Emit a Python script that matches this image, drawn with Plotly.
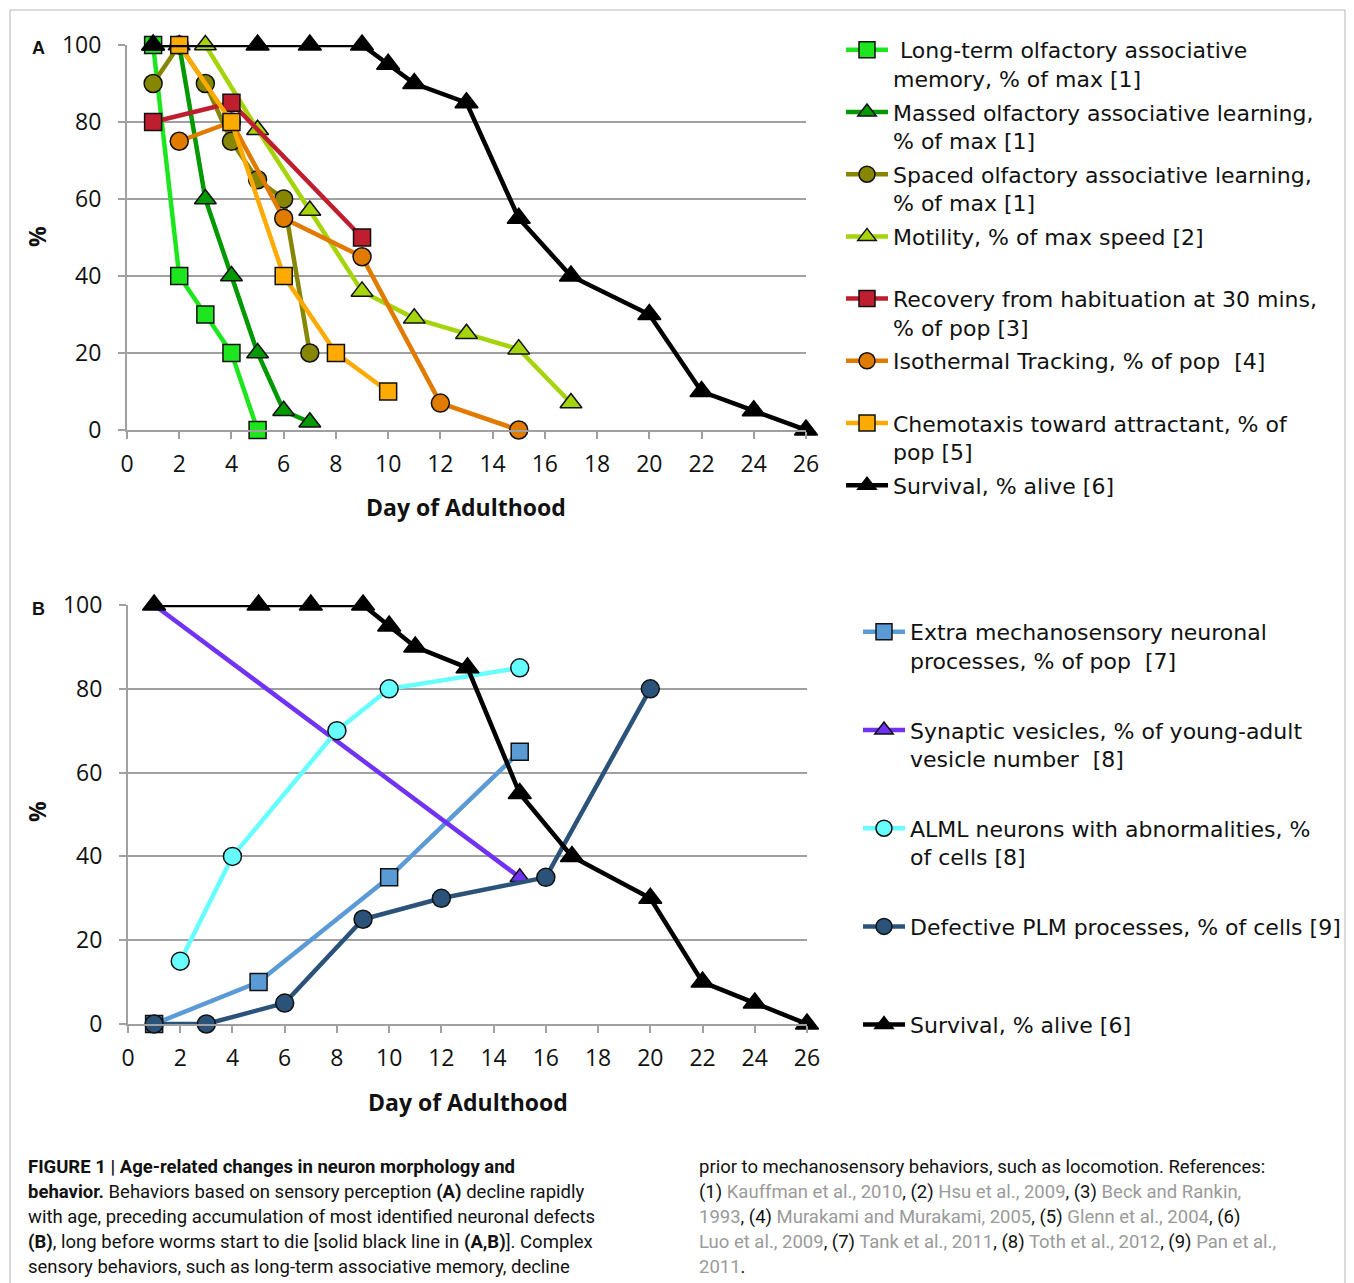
import plotly.graph_objects as go

OFF = 8                      # page body margin offset of the rendered figure
W, H = 1354 - OFF, 1283 - OFF

# ---------------- Panel A data ----------------
a_ltm_x = [1, 2, 3, 4, 5]
a_ltm_y = [100, 40, 30, 20, 0]
a_massed_x = [1, 2, 3, 4, 5, 6, 7]
a_massed_y = [100, 100, 60, 40, 20, 5, 2]
a_spaced_x = [1, 2, 3, 4, 5, 6, 7]
a_spaced_y = [90, 100, 90, 75, 65, 60, 20]
a_motility_x = [3, 5, 7, 9, 11, 13, 15, 17]
a_motility_y = [100, 78, 57, 36, 29, 25, 21, 7]
a_recovery_x = [1, 4, 9]
a_recovery_y = [80, 85, 50]
a_isothermal_x = [2, 4, 6, 9, 12, 15]
a_isothermal_y = [75, 80, 55, 45, 7, 0]
a_chemo_x = [2, 4, 6, 8, 10]
a_chemo_y = [100, 80, 40, 20, 10]
survival_x = [1, 5, 7, 9, 10, 11, 13, 15, 17, 20, 22, 24, 26]
survival_y = [100, 100, 100, 100, 95, 90, 85, 55, 40, 30, 10, 5, 0]

# ---------------- Panel B data ----------------
b_extra_x = [1, 5, 10, 15]
b_extra_y = [0, 10, 35, 65]
b_syn_x = [1, 15]
b_syn_y = [100, 35]
b_alml_x = [2, 4, 8, 10, 15]
b_alml_y = [15, 40, 70, 80, 85]
b_plm_x = [1, 3, 6, 9, 12, 16, 20]
b_plm_y = [0, 0, 5, 25, 30, 35, 80]

x_ticks = list(range(0, 27, 2))
y_ticks = [0, 20, 40, 60, 80, 100]

FONT = "Open Sans"
LEG_FONT = "DejaVu Sans"
fig = go.Figure()

def px_x(p):
    return (p - OFF) / W

def px_y(p):
    return 1 - (p - OFF) / H

def add(x, y, name, color, symbol, xa, ya, legend, group, msize=17, outline="#111111"):
    fig.add_trace(go.Scatter(
        x=x, y=y, name=name, mode="lines+markers",
        line=dict(color=color, width=4.5),
        marker=dict(symbol=symbol, size=msize, color=color,
                    line=dict(color=outline, width=1.5)),
        xaxis=xa, yaxis=ya, legend=legend, legendgroup=group,
        cliponaxis=False,
    ))

# Panel A
add(a_ltm_x, a_ltm_y, " Long-term olfactory associative<br>memory, % of max [1]", "#1ee61e", "square", "x", "y", "legend", "a1", 17)
add(a_massed_x, a_massed_y, "Massed olfactory associative learning,<br>% of max [1]", "#009a00", "triangle-up", "x", "y", "legend", "a2", 19)
add(a_spaced_x, a_spaced_y, "Spaced olfactory associative learning,<br>% of max [1]", "#868600", "circle", "x", "y", "legend", "a3", 18)
add(a_motility_x, a_motility_y, "Motility, % of max speed [2]<br> ", "#a6d40a", "triangle-up", "x", "y", "legend", "a4", 19)
add(a_recovery_x, a_recovery_y, "Recovery from habituation at 30 mins,<br>% of pop [3]", "#be1e2d", "square", "x", "y", "legend", "a5", 17)
add(a_isothermal_x, a_isothermal_y, "Isothermal Tracking, % of pop  [4]<br> ", "#e07b00", "circle", "x", "y", "legend", "a6", 18)
add(a_chemo_x, a_chemo_y, "Chemotaxis toward attractant, % of<br>pop [5]", "#ffaa00", "square", "x", "y", "legend", "a7", 17)
add(survival_x, survival_y, "Survival, % alive [6]", "#000000", "triangle-up", "x", "y", "legend", "a8", 20, "#000000")

# Panel B
add(b_extra_x, b_extra_y, "Extra mechanosensory neuronal<br>processes, % of pop  [7]", "#5b9bd5", "square", "x2", "y2", "legend2", "b1", 17)
add(b_syn_x, b_syn_y, "Synaptic vesicles, % of young-adult<br>vesicle number  [8]", "#7033f5", "triangle-up", "x2", "y2", "legend2", "b2", 17)
add(b_alml_x, b_alml_y, "ALML neurons with abnormalities, %<br>of cells [8]", "#66ffff", "circle", "x2", "y2", "legend2", "b3", 18)
add(b_plm_x, b_plm_y, "Defective PLM processes, % of cells [9]<br> ", "#2b5279", "circle", "x2", "y2", "legend2", "b4", 18)
add(survival_x, survival_y, "Survival, % alive [6]", "#000000", "triangle-up", "x2", "y2", "legend2", "b5", 20, "#000000")

axis_common = dict(
    showline=True, linecolor="#a0a0a0", linewidth=2,
    ticks="outside", tickcolor="#a0a0a0", ticklen=7, tickwidth=2,
    zeroline=False, tickfont=dict(family=FONT, size=23, color="#111111"),
)

fig.update_layout(
    width=W, height=H,
    margin=dict(l=0, r=0, t=0, b=0, pad=0, autoexpand=False),
    paper_bgcolor="white", plot_bgcolor="white",
    font=dict(family=FONT, color="#111111"),
    xaxis=dict(domain=[px_x(127), px_x(806)], range=[0, 26], tickvals=x_ticks,
               showgrid=False, anchor="y", ticklabelstandoff=5, **axis_common),
    yaxis=dict(domain=[px_y(430), px_y(45)], range=[0, 100], tickvals=y_ticks,
               showgrid=True, gridcolor="#a0a0a0", gridwidth=2, anchor="x",
               ticklabelstandoff=12, **axis_common),
    xaxis2=dict(domain=[px_x(128), px_x(807)], range=[0, 26], tickvals=x_ticks,
                showgrid=False, anchor="y2", ticklabelstandoff=5, **axis_common),
    yaxis2=dict(domain=[px_y(1024), px_y(605)], range=[0, 100], tickvals=y_ticks,
                showgrid=True, gridcolor="#a0a0a0", gridwidth=2, anchor="x2",
                ticklabelstandoff=12, **axis_common),
    legend=dict(x=px_x(841), y=px_y(29), xanchor="left", yanchor="top",
                font=dict(family=LEG_FONT, size=22, color="#111111"),
                bgcolor="rgba(0,0,0,0)", valign="top", itemwidth=42,
                tracegroupgap=2, traceorder="grouped"),
    legend2=dict(x=px_x(858), y=px_y(611), xanchor="left", yanchor="top",
                 font=dict(family=LEG_FONT, size=22, color="#111111"),
                 bgcolor="rgba(0,0,0,0)", valign="top", itemwidth=42,
                 tracegroupgap=38, traceorder="grouped"),
    showlegend=True,
)

ann = []
def text(x, y, s, size=22, bold=False, angle=0, xanchor="center", family=FONT, color="#111111"):
    ann.append(dict(x=px_x(x), y=px_y(y), xref="paper", yref="paper", text=(f"<b>{s}</b>" if bold else s),
                    showarrow=False, xanchor=xanchor, yanchor="middle", textangle=angle,
                    font=dict(family=family, size=size, color=color)))

text(38, 48, "A", size=18, bold=True, family="Liberation Sans")
text(38, 609, "B", size=18, bold=True, family="Liberation Sans")
text(37, 237, "%", size=23, bold=True, angle=-90)
text(37, 812, "%", size=23, bold=True, angle=-90)
text(466, 507, "Day of Adulthood", size=23, bold=True)
text(468, 1102, "Day of Adulthood", size=23, bold=True)

G = '<span style="color:#9a9a9a">'
E = '</span>'
left_lines = [
    "<b>FIGURE 1 | Age-related changes in neuron morphology and</b>",
    "<b>behavior.</b> Behaviors based on sensory perception <b>(A)</b> decline rapidly",
    "with age, preceding accumulation of most identified neuronal defects",
    "<b>(B)</b>, long before worms start to die [solid black line in <b>(A,B)</b>]. Complex",
    "sensory behaviors, such as long-term associative memory, decline",
]
right_lines = [
    "prior to mechanosensory behaviors, such as locomotion. References:",
    f"(1) {G}Kauffman et al., 2010{E}, (2) {G}Hsu et al., 2009{E}, (3) {G}Beck and Rankin,{E}",
    f"{G}1993{E}, (4) {G}Murakami and Murakami, 2005{E}, (5) {G}Glenn et al., 2004{E}, (6)",
    f"{G}Luo et al., 2009{E}, (7) {G}Tank et al., 2011{E}, (8) {G}Toth et al., 2012{E}, (9) {G}Pan et al.,{E}",
    f"{G}2011{E}.",
]
CAP_FONT = "Roboto"
for i, s in enumerate(left_lines):
    text(26, 1167 + 25 * i, s, size=18.5, xanchor="left", family=CAP_FONT)
for i, s in enumerate(right_lines):
    text(697, 1167 + 25 * i, s, size=18.5, xanchor="left", family=CAP_FONT)

fig.update_layout(annotations=ann)
fig.add_shape(type="rect", xref="paper", yref="paper",
              x0=px_x(10), x1=px_x(1345), y0=-0.02, y1=px_y(10),
              line=dict(color="#b5b5b5", width=1), fillcolor="rgba(0,0,0,0)", layer="below")

fig.write_html("out.html")
